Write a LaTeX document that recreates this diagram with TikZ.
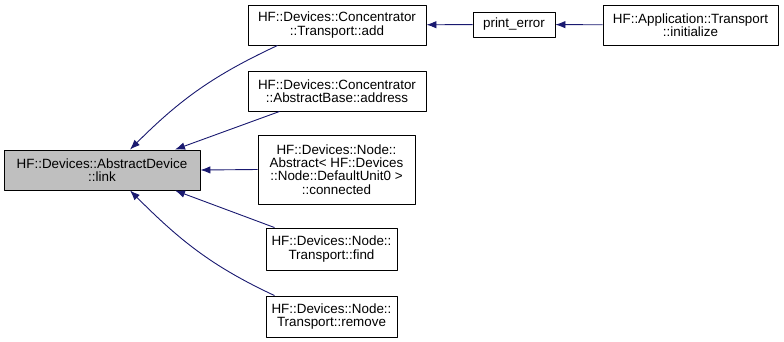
\documentclass[tikz,border=0pt]{standalone}
\usepackage{fontspec}
\setmainfont{Liberation Sans}
\usetikzlibrary{arrows.meta}
\definecolor{edgeblue}{HTML}{191970}
\definecolor{curgray}{HTML}{BFBFBF}
\begin{document}
\begin{tikzpicture}[x=1pt,y=-1pt,line join=round,
    fn/.style={draw=black,line width=0.9pt,fill=white,align=center,inner sep=0pt,
      font=\fontsize{13.4}{13.3}\selectfont},
    edge/.style={draw=edgeblue,line width=0.9pt,-{Latex[length=10pt,width=7.5pt]}}]
  \useasboundingbox (0,0) rectangle (784,341);
  % the function itself, and its callers to the right
  \node[fn,fill=curgray,minimum width=196pt,minimum height=40pt] (link) at (102,170)
    {HF::Devices::AbstractDevice\\::link};
  \node[fn,minimum width=178pt,minimum height=40pt] (add) at (337,25)
    {HF::Devices::Concentrator\\::Transport::add};
  \node[fn,minimum width=178pt,minimum height=40pt] (address) at (337,91)
    {HF::Devices::Concentrator\\::AbstractBase::address};
  \node[fn,minimum width=157pt,minimum height=69pt] (connected) at (336.5,169.5)
    {HF::Devices::Node::\\Abstract< HF::Devices\\::Node::DefaultUnit0 >\\::connected};
  \node[fn,minimum width=131pt,minimum height=42pt] (find) at (331.5,249)
    {HF::Devices::Node::\\Transport::find};
  \node[fn,minimum width=131pt,minimum height=41pt] (remove) at (331.5,316.5)
    {HF::Devices::Node::\\Transport::remove};
  \node[fn,minimum width=82pt,minimum height=25pt] (perr) at (514,24.5) {print\_error};
  \node[fn,minimum width=175pt,minimum height=40pt] (init) at (690.5,25)
    {HF::Application::Transport\\::initialize};
  % call edges
  \draw[edge] ([xshift=30pt]add.south west) to[out=205,in=45] ([xshift=28pt]link.north);
  \draw[edge] ([xshift=32pt]address.south west) -- ([xshift=73pt]link.north);
  \draw[edge] (connected.west) -- (link.east);
  \draw[edge] ([xshift=9pt]find.north west) -- ([xshift=73pt]link.south);
  \draw[edge] ([xshift=9pt]remove.north west) to[out=155,in=-45] ([xshift=28pt]link.south);
  \draw[edge] (perr) -- (add);
  \draw[edge] (init) -- (perr);
\end{tikzpicture}
\end{document}
